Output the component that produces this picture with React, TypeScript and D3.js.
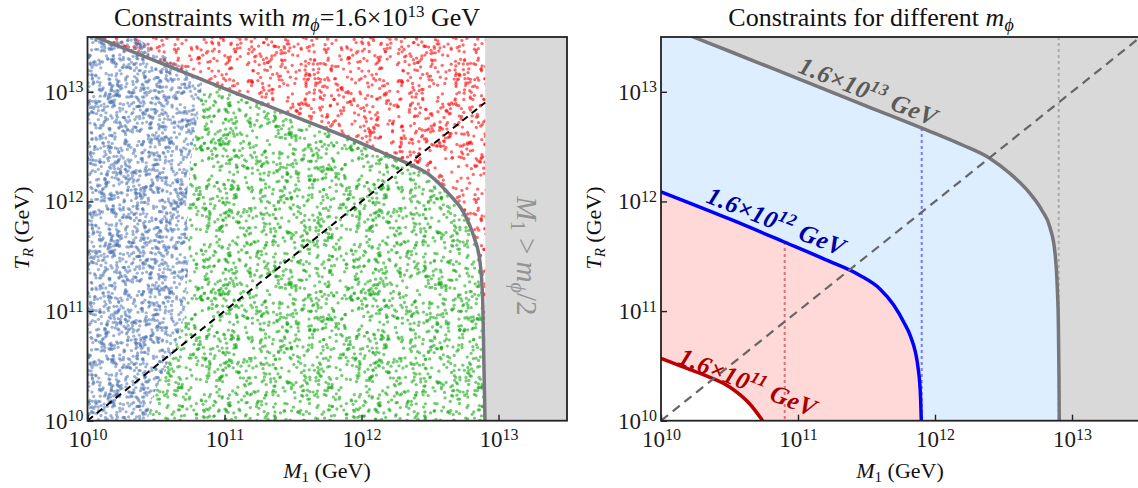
import { useEffect, useRef } from 'react';
import * as d3 from 'd3';

const FONT = '"Liberation Serif", "DejaVu Serif", serif';

// axes: both panels share the same log range
const axisDomain = [1e10, 10 ** 13.5];
const decadeTicks = [1e10, 1e11, 1e12, 1e13];

// all curves are [log10 M1, log10 T_R]
// left panel: boundary for m_phi = 1.6e13 GeV
const scanBoundary: [number, number][] = [
  [10.0, 13.53], [10.5, 13.28], [11.0, 13.03], [11.5, 12.78], [12.0, 12.53],
  [12.2, 12.42], [12.34, 12.346], [12.5, 12.238], [12.646, 12.057],
  [12.743, 11.905], [12.816, 11.693], [12.865, 11.449], [12.885, 11.085],
  [12.894, 10.48], [12.9015, 10.0],
];
// left edge of the green points (bottom to top)
const greenEdge: [number, number][] = [
  [10.44, 10.0], [10.47, 10.2], [10.54, 10.4], [10.63, 10.65], [10.71, 10.95],
  [10.74, 11.5], [10.72, 12.0], [10.77, 12.5], [10.83, 13.0], [10.84, 13.11],
];
// blue points above the boundary near the top-left corner
const blueTop: [number, number][] = [[10.6, 13.3], [10.35, 13.5], [10.0, 13.5]];

// right panel: one boundary per m_phi
const curve13: [number, number][] = [
  [10.0, 13.62], [10.236, 13.5], [10.5, 13.37], [11.0, 13.12], [11.5, 12.87],
  [12.0, 12.62], [12.2, 12.515], [12.396, 12.397], [12.547, 12.255],
  [12.693, 12.073], [12.78, 11.92], [12.84, 11.76], [12.876, 11.53],
  [12.893, 11.2], [12.9, 10.918], [12.905, 10.4], [12.907, 10.0],
];
const curve12: [number, number][] = [
  [10.0, 12.088], [10.5, 11.84], [10.9, 11.63], [11.2, 11.47], [11.453, 11.325],
  [11.6, 11.2], [11.696, 11.06], [11.78, 10.88], [11.818, 10.78],
  [11.878, 10.47], [11.895, 10.2], [11.9, 10.0],
];
const curve11: [number, number][] = [
  [10.0, 10.569], [10.15, 10.495], [10.309, 10.42], [10.504, 10.305],
  [10.65, 10.15], [10.742, 10.0],
];
// M1 = m_phi / 2 for each m_phi, and where each dotted line starts
const halfMass = [10.903, 11.903, 12.903];
const dottedTop = [11.63, 12.67, 13.5];
const massLabels = ['11', '12', '13'];

const plotTop = 37;
const plotBottom = 420.7;

// scatter texture for the scan regions (a tile of dots, not data)
function sequence(seed: number) {
  let a = seed >>> 0;
  return () => {
    a = (a + 0x6d2b79f5) | 0;
    let t = Math.imul(a ^ (a >>> 15), 1 | a);
    t = (t + Math.imul(t ^ (t >>> 7), 61 | t)) ^ t;
    return ((t ^ (t >>> 14)) >>> 0) / 4294967296;
  };
}

function texture(count: number, size: number, seed: number) {
  const next = sequence(seed * 9973 + 17);
  const pts: [number, number][] = [];
  for (let i = 0; i < count; i++) {
    const x = next() * size, y = next() * size;
    pts.push([x, y]);
    if (x < 2) pts.push([x + size, y]);
    if (y < 2) pts.push([x, y + size]);
    if (x > size - 2) pts.push([x - size, y]);
    if (y > size - 2) pts.push([x, y - size]);
  }
  return pts;
}

function DotPattern({ id, color, count, opacity, seed }: any) {
  const size = 150;
  return (
    <pattern id={id} patternUnits="userSpaceOnUse" width={size} height={size} x={seed * 23} y={seed * 11}>
      {texture(count, size, seed).map(([x, y], i) => (
        <circle key={i} cx={x.toFixed(1)} cy={y.toFixed(1)} r={1.65} fill={color} fillOpacity={opacity} />
      ))}
    </pattern>
  );
}

function styleAxis(g: any) {
  g.select('.domain').remove();
  g.attr('font-family', FONT).attr('font-size', 23);
  g.selectAll('.tick line').attr('stroke', '#222').attr('stroke-width', 1.4);
  g.selectAll('.tick text').each(function (this: SVGTextElement, d: number) {
    const t = d3.select(this).text(null).attr('fill', '#1a1a1a');
    t.append('tspan').text('10');
    t.append('tspan').attr('dy', '-0.46em').attr('font-size', 16).text(String(Math.round(Math.log10(d))));
  });
}

export default function App() {
  const lx = useRef<SVGGElement>(null), ly = useRef<SVGGElement>(null);
  const rx = useRef<SVGGElement>(null), ry = useRef<SVGGElement>(null);

  const y = d3.scaleLog().domain(axisDomain).range([plotBottom, plotTop]);
  const xL = d3.scaleLog().domain(axisDomain).range([87.5, 567]);
  const xR = d3.scaleLog().domain(axisDomain).range([661, 1140.5]);

  const px = (x: any) => (p: [number, number]) => [x(10 ** p[0]), y(10 ** p[1])] as [number, number];
  const smooth = d3.line().curve(d3.curveMonotoneX);
  const straight = d3.line();
  const tail = (pts: [number, number][]) => pts.map(([a, b]) => `L${a},${b}`).join('') + 'Z';

  // left panel regions
  const lb = scanBoundary.map(px(xL));
  const redPath = smooth(lb) + tail([[12.903, 10], [12.903, 13.7], [10, 13.7]].map(px(xL)) as any);
  const greenCurve = scanBoundary.filter((p) => p[0] > 10.84).map(px(xL));
  const greenPath = straight(greenEdge.map(px(xL)))! + smooth(greenCurve)!.replace(/^M/, 'L') + 'Z';
  const bluePath = straight([[10, 10] as [number, number], ...greenEdge, ...blueTop].map(px(xL)))! + 'Z';

  const under = (x: any, c: [number, number][]) =>
    smooth(c.map(px(x)))! + tail([[c[c.length - 1][0], 10], [10, 10]].map(px(x)) as any);

  useEffect(() => {
    [lx, rx].forEach((ref, i) => {
      const g = d3.select(ref.current);
      g.call(d3.axisBottom([xL, xR][i]).tickValues(decadeTicks).tickSizeInner(-6).tickSizeOuter(0).tickPadding(10) as any);
      styleAxis(g);
    });
    [ly, ry].forEach((ref) => {
      const g = d3.select(ref.current);
      g.call(d3.axisLeft(y).tickValues(decadeTicks).tickSizeInner(-6).tickSizeOuter(0).tickPadding(4) as any);
      styleAxis(g);
    });
  }, []);

  return (
    <svg width={1138} height={488} style={{ position: 'absolute', left: 0, top: 0, background: '#fff' }} fontFamily={FONT}>
      <defs>
        <clipPath id="plotL"><rect x={87.5} y={plotTop} width={479.5} height={plotBottom - plotTop} /></clipPath>
        <clipPath id="plotR"><rect x={661} y={plotTop} width={479.5} height={plotBottom - plotTop} /></clipPath>
        <DotPattern id="dotBlue" color="#4c72b0" count={1500} opacity={0.55} seed={1} />
        <DotPattern id="dotGreen" color="#12a812" count={820} opacity={0.58} seed={2} />
        <DotPattern id="dotRed" color="#ff1010" count={720} opacity={0.62} seed={3} />
      </defs>

      {/* ---------- left panel ---------- */}
      <g clipPath="url(#plotL)">
        <rect x={xL(10 ** halfMass[2])} y={plotTop} width={567 - xL(10 ** halfMass[2])} height={plotBottom - plotTop} fill="#d9d9d9" />
        <path d={greenPath} fill="url(#dotGreen)" />
        <path d={redPath} fill="url(#dotRed)" />
        <path d={bluePath} fill="url(#dotBlue)" />
        <path d={smooth(lb)!} fill="none" stroke="#77777f" strokeWidth={3.5} />
        <line x1={xL(1e10)} y1={y(1e10)} x2={xL(10 ** halfMass[2])} y2={y(10 ** halfMass[2])} stroke="#000" strokeWidth={2} strokeDasharray="7,5" />
      </g>
      <text transform={`translate(517,256) rotate(90)`} textAnchor="middle" fontSize={29} fill="#939393">
        <tspan fontStyle="italic">M</tspan>
        <tspan fontSize={20} dy={6}>1</tspan>
        <tspan dy={-6}>{' > '}</tspan>
        <tspan fontStyle="italic">m</tspan>
        <tspan fontStyle="italic" fontSize={20} dy={6}>ϕ</tspan>
        <tspan dy={-6}>/2</tspan>
      </text>
      <rect x={87.5} y={plotTop} width={479.5} height={plotBottom - plotTop} fill="none" stroke="#222" strokeWidth={1.8} />
      <g ref={lx} transform={`translate(0,${plotBottom})`} />
      <g ref={ly} transform="translate(87.5,0)" />

      {/* ---------- right panel ---------- */}
      <g clipPath="url(#plotR)">
        <rect x={661} y={plotTop} width={479.5} height={plotBottom - plotTop} fill="#d9d9d9" />
        <path d={under(xR, curve13)} fill="#dceeff" />
        <path d={under(xR, curve12)} fill="#ffd8d8" />
        <path d={under(xR, curve11)} fill="#ffffff" />
        {halfMass.map((m, i) => (
          <line key={m} x1={xR(10 ** m)} x2={xR(10 ** m)} y1={y(10 ** dottedTop[i])} y2={plotBottom}
            stroke={['#e07078', '#7878ff', '#ababab'][i]} strokeWidth={2} strokeDasharray="3,3" />
        ))}
        {[curve11, curve12, curve13].map((c, i) => (
          <path key={i} d={smooth(c.map(px(xR)))!} fill="none" stroke={['#bb0000', '#0000ff', '#77777a'][i]} strokeWidth={3.5} />
        ))}
        <line x1={xR(1e10)} y1={y(1e10)} x2={xR(10 ** 13.5)} y2={y(10 ** 13.5)} stroke="#666" strokeWidth={2.2} strokeDasharray="9,6" />
      </g>
      {massLabels.map((e, i) => (
        <text key={e} transform={`translate(${[677, 705, 797][i]},${[363, 202, 72][i]}) rotate(21.8)`}
          fontSize={25} letterSpacing={0.6} fontWeight="bold" fontStyle="italic" fill={['#aa0000', '#0000a0', '#5a5a5a'][i]}>
          1.6×10<tspan fontSize={17} dy={-10}>{e}</tspan><tspan dy={10}>{' GeV'}</tspan>
        </text>
      ))}
      <rect x={661} y={plotTop} width={479.5} height={plotBottom - plotTop} fill="none" stroke="#222" strokeWidth={1.8} />
      <g ref={rx} transform={`translate(0,${plotBottom})`} />
      <g ref={ry} transform="translate(661,0)" />

      {/* ---------- titles and axis labels ---------- */}
      <text x={297} y={26} textAnchor="middle" fontSize={26} fill="#111">
        {'Constraints with '}
        <tspan fontStyle="italic">m</tspan>
        <tspan fontStyle="italic" fontSize={18} dy={5}>ϕ</tspan>
        <tspan dy={-5}>=1.6×10</tspan>
        <tspan fontSize={17} dy={-9}>13</tspan>
        <tspan dy={9}>{' GeV'}</tspan>
      </text>
      <text x={871} y={26} textAnchor="middle" fontSize={26} fill="#111">
        {'Constraints for different '}
        <tspan fontStyle="italic">m</tspan>
        <tspan fontStyle="italic" fontSize={18} dy={5}>ϕ</tspan>
      </text>
      {[327, 900].map((cx) => (
        <text key={cx} x={cx} y={478} textAnchor="middle" fontSize={22} fill="#111">
          <tspan fontStyle="italic">M</tspan>
          <tspan fontSize={15} dy={4}>1</tspan>
          <tspan dy={-4}>{' (GeV)'}</tspan>
        </text>
      ))}
      {[29, 601].map((bx) => (
        <text key={bx} transform={`translate(${bx},228) rotate(-90)`} textAnchor="middle" fontSize={22} fill="#111">
          <tspan fontStyle="italic">T</tspan>
          <tspan fontStyle="italic" fontSize={15} dy={4}>R</tspan>
          <tspan dy={-4}>{' (GeV)'}</tspan>
        </text>
      ))}
    </svg>
  );
}
